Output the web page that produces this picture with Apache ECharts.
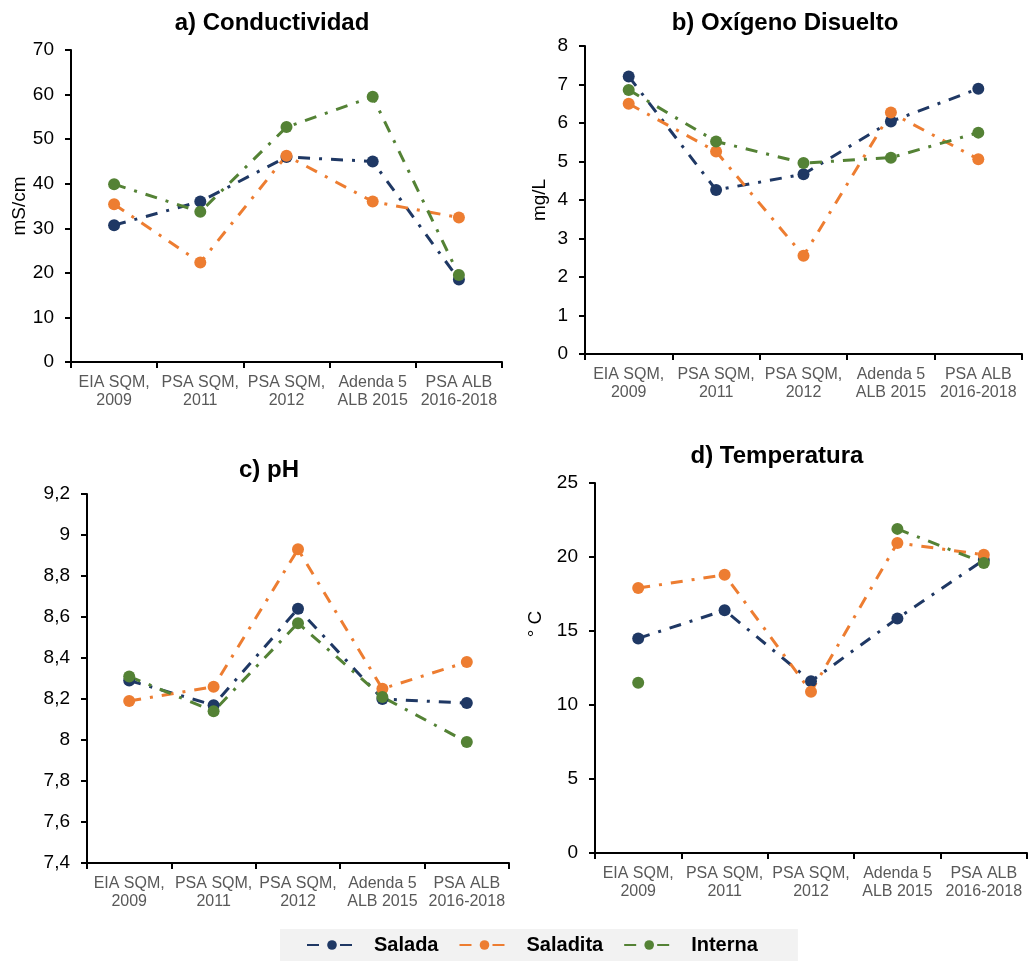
<!DOCTYPE html>
<html>
<head>
<meta charset="utf-8">
<script src="https://cdn.jsdelivr.net/npm/echarts@6/dist/echarts.min.js"></script>
<style>
html,body{margin:0;padding:0;background:#fff;}
#chart{width:1029px;height:964px;}
</style>
</head>
<body>
<div id="chart"></div>
<script>
const categories = ["EIA SQM,\n2009", "PSA SQM,\n2011", "PSA SQM,\n2012", "Adenda 5\nALB 2015", "PSA ALB\n2016-2018"];
const seriesNames = ["Salada", "Saladita", "Interna"];

// a) Conductividad (mS/cm)
const condSalada   = [30.7, 36.0, 46.0, 45.0, 18.5];
const condSaladita = [35.4, 22.3, 46.3, 36.0, 32.4];
const condInterna  = [39.9, 33.7, 52.7, 59.5, 19.5];

// b) Oxígeno Disuelto (mg/L)
const oxSalada   = [7.21, 4.26, 4.67, 6.04, 6.89];
const oxSaladita = [6.50, 5.26, 2.55, 6.27, 5.06];
const oxInterna  = [6.86, 5.52, 4.96, 5.10, 5.75];

// c) pH
const phSalada   = [8.29, 8.17, 8.64, 8.20, 8.18];
const phSaladita = [8.19, 8.26, 8.93, 8.25, 8.38];
const phInterna  = [8.31, 8.14, 8.57, 8.21, 7.99];

// d) Temperatura (° C)
const tSalada   = [14.5, 16.4, 11.6, 15.85, 19.8];
const tSaladita = [17.9, 18.8, 10.9, 20.95, 20.15];
const tInterna  = [11.5, null, null, 21.9, 19.6];

const titles = ["a) Conductividad", "b) Oxígeno Disuelto", "c) pH", "d) Temperatura"];
const yNames = ["mS/cm", "mg/L", "", "° C"];
const yRanges = [[0, 70, 10], [0, 8, 1], [7.4, 9.2, 0.2], [0, 25, 5]];

const colors = ["#1F3864", "#ED7D31", "#548235"];
const dashPattern = [12, 9, 3, 9];
const FONT = "Liberation Sans, Arial, sans-serif";

const grids = [
  {left: 71, top: 50, width: 431, height: 312},
  {left: 585, top: 46, width: 437, height: 308},
  {left: 87, top: 494, width: 422, height: 369},
  {left: 595, top: 483, width: 432, height: 370}
];
const titlePos = [[267, 6], [780, 6], [264, 453], [772, 439]];
const nameGaps = [42, 36, 0, 50];
const namePad = [[0,0,0,0],[0,0,0,0],[0,0,0,0],[0,0,0,88]];

const data = [
  [condSalada, condSaladita, condInterna],
  [oxSalada, oxSaladita, oxInterna],
  [phSalada, phSaladita, phInterna],
  [tSalada, tSaladita, tInterna]
];

const axisLine = {show: true, lineStyle: {color: "#000", width: 2}};

const option = {
  animation: false,
  backgroundColor: "#fff",
  title: titles.map((t, i) => ({
    text: t,
    left: titlePos[i][0],
    top: titlePos[i][1],
    textAlign: "center",
    textStyle: {fontFamily: FONT, fontWeight: "bold", fontSize: 24, color: "#000"}
  })),
  grid: grids,
  xAxis: grids.map((g, i) => ({
    type: "category",
    gridIndex: i,
    data: categories,
    boundaryGap: true,
    axisLine: axisLine,
    axisTick: {show: true, length: 6, lineStyle: {color: "#000", width: 2}},
    axisLabel: {fontFamily: FONT, fontSize: 16, color: "#595959", lineHeight: 18, margin: 12, interval: 0},
    splitLine: {show: false}
  })),
  yAxis: grids.map((g, i) => ({
    type: "value",
    gridIndex: i,
    min: yRanges[i][0],
    max: yRanges[i][1],
    interval: yRanges[i][2],
    name: yNames[i],
    nameLocation: "middle",
    nameGap: nameGaps[i],
    nameRotate: 90,
    nameTextStyle: {fontFamily: FONT, fontSize: 19, color: "#000", padding: namePad[i]},
    axisLine: axisLine,
    axisTick: {show: true, length: 6, lineStyle: {color: "#000", width: 2}},
    axisLabel: {
      fontFamily: FONT, fontSize: 19, color: "#000", margin: 17,
      formatter: i === 2 ? (v => (Math.round(v * 10) / 10).toString().replace(".", ",")) : (v => String(Math.round(v)))
    },
    splitLine: {show: false}
  })),
  legend: {
    data: seriesNames,
    left: 280,
    top: 929,
    backgroundColor: "#F2F2F2",
    padding: [6, 40, 6, 26],
    itemGap: 20,
    itemWidth: 50,
    itemHeight: 12,
    textStyle: {fontFamily: FONT, fontSize: 20, fontWeight: "bold", color: "#000", padding: [0, 0, 0, 12]}
  },
  series: []
};

data.forEach((group, gi) => {
  group.forEach((vals, si) => {
    option.series.push({
      name: seriesNames[si],
      type: "line",
      xAxisIndex: gi,
      yAxisIndex: gi,
      data: vals,
      connectNulls: false,
      symbol: "circle",
      symbolSize: 12,
      showSymbol: true,
      itemStyle: {color: colors[si]},
      lineStyle: {color: colors[si], width: 3, type: dashPattern}
    });
  });
});

const chart = echarts.init(document.getElementById("chart"), null, {renderer: "canvas"});
chart.setOption(option);
</script>
</body>
</html>
